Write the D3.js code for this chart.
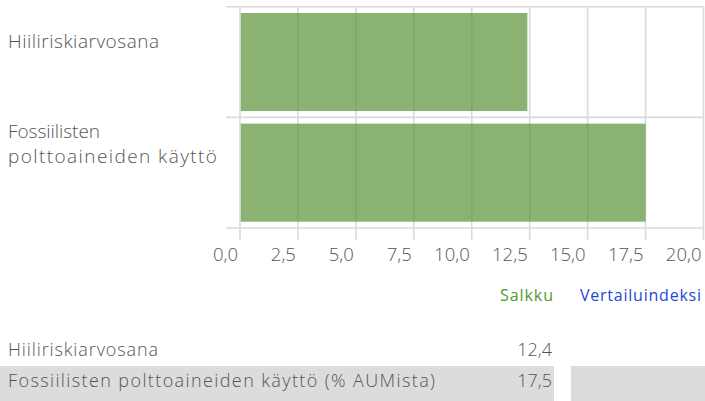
<!DOCTYPE html>
<html>
<head>
<meta charset="utf-8">
<script src="https://cdn.jsdelivr.net/npm/d3@7"></script>
<style>
  body { margin: 0; background: #fff; }
  svg { display: block; font-family: 'Open Sans', sans-serif; font-weight: 300; }
  text { fill: #555; }
</style>
</head>
<body>
<svg width="705" height="401"></svg>
<script>
var categories = ['Hiiliriskiarvosana', 'Fossiilisten polttoaineiden käyttö'];
var labelLines = [['Hiiliriskiarvosana'], ['Fossiilisten', 'polttoaineiden käyttö']];
var portfolio = [12.4, 17.5];
var xTicks = [0, 2.5, 5, 7.5, 10, 12.5, 15, 17.5, 20];
var legendNames = ['Salkku', 'Vertailuindeksi'];
var tableLabels = ['Hiiliriskiarvosana', 'Fossiilisten polttoaineiden käyttö (% AUMista)'];
var tableValues = ['12,4', '17,5'];

var svg = d3.select('svg');
var fmt = function(d) { return d3.format('.1f')(d).replace('.', ','); };

var x = d3.scaleLinear().domain([0, 20]).range([240, 703.5]);
var y = d3.scaleBand().domain(categories).range([6.7, 228]);
var inset = 6.3;

// grid lines (bars are semi transparent so they show through)
var grid = svg.append('g')
  .attr('stroke', '#dadada')
  .attr('stroke-width', 1.6);

grid.selectAll('.vline')
  .data(xTicks)
  .enter().append('line')
  .attr('x1', function(d) { return x(d); })
  .attr('x2', function(d) { return x(d); })
  .attr('y1', 6.7)
  .attr('y2', 240);

var bandEdges = categories.map(function(d) { return y(d); }).concat([y.range()[1]]);
grid.selectAll('.hline')
  .data(bandEdges)
  .enter().append('line')
  .attr('x1', 226)
  .attr('x2', 704)
  .attr('y1', function(d) { return d; })
  .attr('y2', function(d) { return d; });

// bars
svg.selectAll('.bar')
  .data(categories)
  .enter().append('rect')
  .attr('class', 'bar')
  .attr('x', x(0) + 0.8)
  .attr('y', function(d) { return y(d) + inset; })
  .attr('width', function(d, i) { return x(portfolio[i]) - x(0) - 0.8; })
  .attr('height', y.bandwidth() - 2 * inset)
  .attr('fill', 'rgb(86,145,52)')
  .attr('fill-opacity', 0.69);

// tick labels
svg.selectAll('.tick-label')
  .data(xTicks)
  .enter().append('text')
  .attr('x', function(d) { return x(d) - 2; })
  .attr('y', 260.5)
  .attr('text-anchor', 'end')
  .attr('font-size', 18.5)
  .text(fmt);

// category labels (widths stretched to the reference's wide font)
var labelY = [48, 138];
var lineWidths = [[151], [92, 209]];
labelLines.forEach(function(lines, i) {
  lines.forEach(function(line, j) {
    svg.append('text')
      .attr('x', 8)
      .attr('y', labelY[i] + j * 25)
      .attr('font-size', 19)
      .attr('textLength', lineWidths[i][j])
      .attr('lengthAdjust', 'spacing')
      .text(line);
  });
});

// legend
svg.append('text')
  .attr('x', 500).attr('y', 300.5)
  .attr('font-size', 16)
  .attr('font-weight', 400)
  .attr('textLength', 53)
  .attr('lengthAdjust', 'spacing')
  .style('fill', '#4f9a2e')
  .text(legendNames[0]);
svg.append('text')
  .attr('x', 580).attr('y', 300.5)
  .attr('font-size', 16)
  .attr('font-weight', 400)
  .attr('textLength', 121)
  .attr('lengthAdjust', 'spacing')
  .style('fill', '#2348d8')
  .text(legendNames[1]);

// table
var rowY = [356, 387];
var rowWidths = [150, 427];
svg.append('rect')
  .attr('x', 0).attr('y', 366).attr('width', 554).attr('height', 35)
  .attr('fill', '#dcdcdc');
svg.append('rect')
  .attr('x', 571).attr('y', 366).attr('width', 134).attr('height', 35)
  .attr('fill', '#dcdcdc');

tableLabels.forEach(function(d, i) {
  svg.append('text')
    .attr('x', 8).attr('y', rowY[i])
    .attr('font-size', 18)
    .attr('textLength', rowWidths[i])
    .attr('lengthAdjust', 'spacing')
    .text(d);
  svg.append('text')
    .attr('x', 552).attr('y', rowY[i])
    .attr('text-anchor', 'end')
    .attr('font-size', 18)
    .text(tableValues[i]);
});
</script>
</body>
</html>
